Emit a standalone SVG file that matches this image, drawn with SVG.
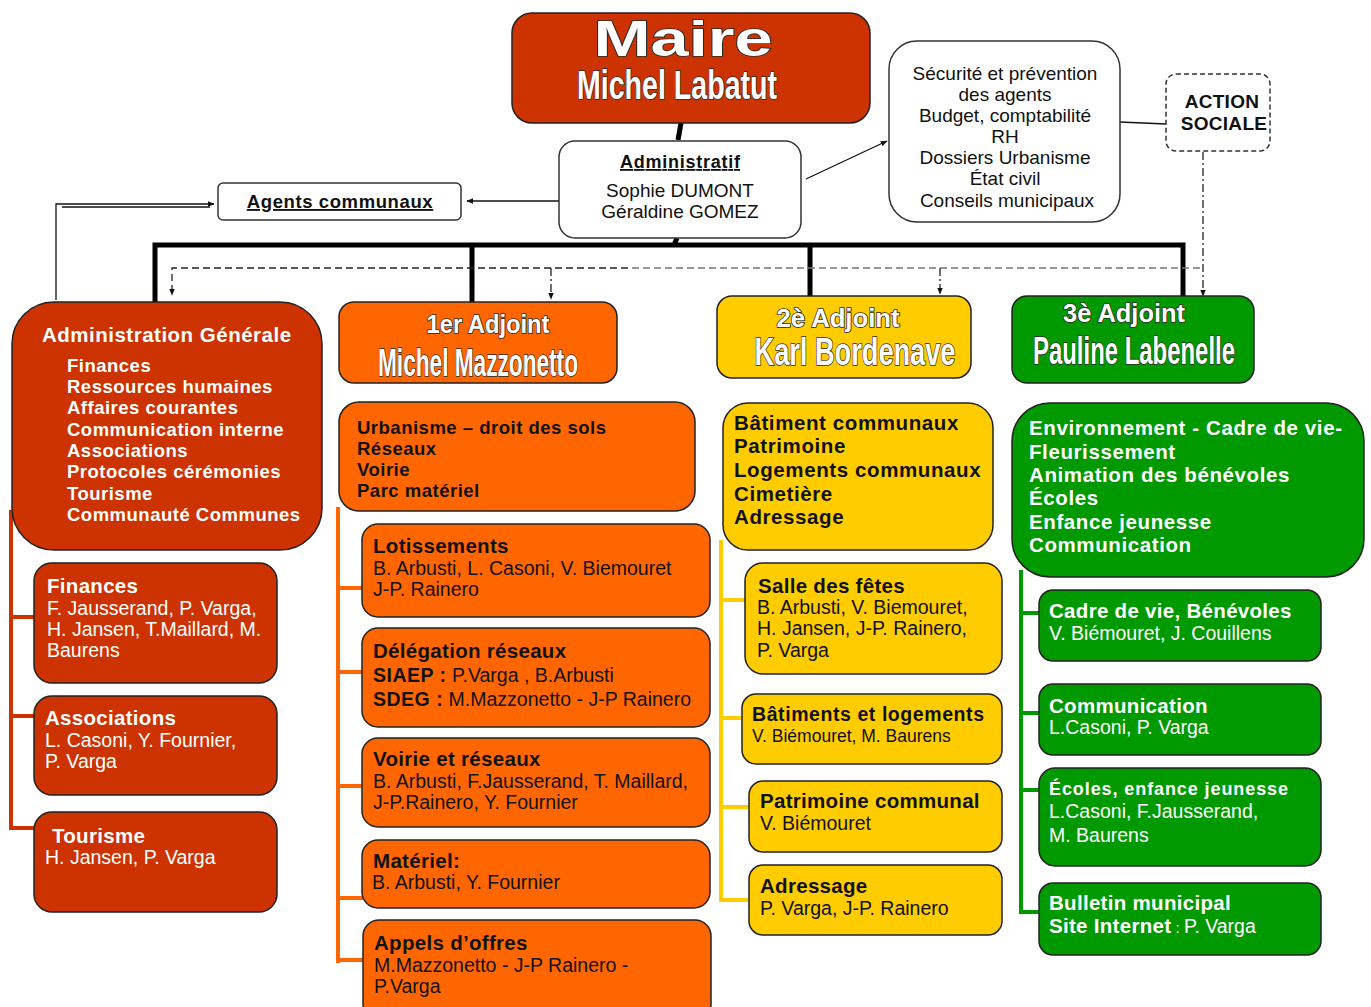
<svg xmlns="http://www.w3.org/2000/svg" width="1371" height="1007" viewBox="0 0 1371 1007">
<style>
text{font-family:"Liberation Sans",Arial,sans-serif}
.hdr{font-family:"Liberation Sans Narrow","Liberation Sans",Arial,sans-serif;font-weight:bold;fill:#fff;stroke:#2a2a2a;stroke-width:1.6;paint-order:stroke;text-anchor:middle}
.red{fill:#CC3300;stroke:#222;stroke-width:1.5}
.org{fill:#FF6600;stroke:#222;stroke-width:1.5}
.yel{fill:#FFCC00;stroke:#222;stroke-width:1.5}
.grn{fill:#009900;stroke:#222;stroke-width:1.5}
.wbox{fill:#fff;stroke:#333;stroke-width:1.5}
.t{font-size:20.5px;font-weight:bold;letter-spacing:0.3px}
.n{font-size:19.5px}
.l17{font-size:18.5px;font-weight:bold;letter-spacing:0.5px}
.l19{font-size:20.5px;font-weight:bold;letter-spacing:0.6px}
.w{fill:#fff}
.k{fill:#111}
.bl{fill:#111;font-size:19px}
.c{text-anchor:middle}
.bus{stroke:#000;stroke-width:5;fill:none}
.thin{stroke:#111;stroke-width:1.3;fill:none}
.dash{stroke:#222;stroke-width:1.3;fill:none;stroke-dasharray:7 4}
.dashg{stroke:#777;stroke-width:1.3;fill:none;stroke-dasharray:7 4}
.dd{stroke:#222;stroke-width:1.3;fill:none;stroke-dasharray:8 3 2 3}
</style>
<defs>
<marker id="ah" viewBox="0 0 10 10" refX="9" refY="5" markerWidth="7" markerHeight="7" orient="auto" markerUnits="userSpaceOnUse">
<path d="M0,1 L10,5 L0,9 z" fill="#111"/>
</marker>
</defs>

<g id="connectors">
<path class="bus" d="M681,123 L678,140" stroke-width="4"/>
<path class="bus" d="M677,238 L674,245" stroke-width="4"/>
<path class="bus" d="M155,302 V245 H1183 V297"/>
<path class="bus" d="M472,245 V302"/>
<path class="bus" d="M810,245 V297"/>
<path class="thin" d="M559,201 H467" marker-end="url(#ah)"/>
<path class="thin" d="M56,300 V204 H214" marker-end="url(#ah)"/>
<path class="thin" d="M62,207 H210"/>
<path class="thin" d="M806,179 L887,141" marker-end="url(#ah)"/>
<path class="thin" d="M1120,122 L1166,124"/>
<path class="dd" d="M1203,152 V296" marker-end="url(#ah)"/>
<path class="dashg" d="M1200,268 H628"/>
<path class="dash" d="M628,268 H172 V295" marker-end="url(#ah)"/>
<path class="dd" d="M551,268 V299" marker-end="url(#ah)"/>
<path class="dd" d="M940,268 V294" marker-end="url(#ah)"/>
<path d="M11,510 V828 H35 M11,617 H35 M11,716 H35" stroke="#CC3300" stroke-width="4" fill="none"/>
<path d="M338,507 V963 M338,588 H363 M338,672 H363 M338,786 H363 M338,898 H363 M338,960 H363" stroke="#FF6600" stroke-width="4" fill="none"/>
<path d="M721,540 V900 H748 M721,600 H746 M721,718 H743 M721,807 H750" stroke="#FFCC00" stroke-width="4" fill="none"/>
<path d="M1021,570 V912 H1040 M1021,613 H1040 M1021,713 H1040 M1021,790 H1040" stroke="#009900" stroke-width="4" fill="none"/>
</g>

<g id="maire">
<rect x="512" y="13" width="358" height="110" rx="20" class="red"/>
<text x="683" y="56" font-size="50" textLength="179" lengthAdjust="spacingAndGlyphs" class="hdr" style="font-family:'Liberation Sans',Arial,sans-serif">Maire</text>
<text x="677" y="99" font-size="40" textLength="200" lengthAdjust="spacingAndGlyphs" class="hdr">Michel Labatut</text>
</g>

<g id="administratif">
<rect x="559" y="141" width="242" height="97" rx="16" class="wbox"/>
<text x="680" y="168" font-size="18" font-weight="bold" text-decoration="underline" textLength="120" class="c k">Administratif</text>
<text x="680" y="197" class="bl c">Sophie DUMONT</text>
<text x="680" y="218" class="bl c">Géraldine GOMEZ</text>
</g>

<g id="agents-communaux">
<rect x="218" y="183" width="243" height="37" rx="5" class="wbox"/>
<text x="340" y="208" font-size="18.5" font-weight="bold" letter-spacing="0.6" text-decoration="underline" class="c k">Agents communaux</text>
</g>

<g id="securite">
<rect x="889" y="41" width="231" height="181" rx="28" class="wbox"/>
<text class="bl c" x="1005" y="80">Sécurité et prévention</text>
<text class="bl c" x="1005" y="101">des agents</text>
<text class="bl c" x="1005" y="122">Budget, comptabilité</text>
<text class="bl c" x="1005" y="143">RH</text>
<text class="bl c" x="1005" y="164">Dossiers Urbanisme</text>
<text class="bl c" x="1005" y="185">État civil</text>
<text class="bl c" x="1007" y="207">Conseils municipaux</text>
</g>

<g id="action-sociale">
<rect x="1166" y="74" width="104" height="77" rx="10" fill="#fff" stroke="#333" stroke-width="1.5" stroke-dasharray="5 3"/>
<text x="1222" y="108" font-size="19" font-weight="bold" letter-spacing="0.3" class="c k">ACTION</text>
<text x="1224" y="130" font-size="19" font-weight="bold" letter-spacing="0.3" class="c k">SOCIALE</text>
</g>

<g id="admin-generale">
<rect x="12" y="302" width="310" height="248" rx="42" class="red"/>
<text x="42" y="342" font-size="20.5" font-weight="bold" letter-spacing="0.5" class="w">Administration Générale</text>
<text class="l17 w" x="67" y="372">Finances</text>
<text class="l17 w" x="67" y="393">Ressources  humaines</text>
<text class="l17 w" x="67" y="414">Affaires courantes</text>
<text class="l17 w" x="67" y="436">Communication  interne</text>
<text class="l17 w" x="67" y="457">Associations</text>
<text class="l17 w" x="67" y="478">Protocoles cérémonies</text>
<text class="l17 w" x="67" y="500">Tourisme</text>
<text class="l17 w" x="67" y="521">Communauté Communes</text>
</g>

<g id="finances">
<rect x="34" y="563" width="243" height="120" rx="18" class="red"/>
<text class="t w" x="47" y="593">Finances</text>
<text class="n w" x="47" y="615">F. Jausserand, P. Varga,</text>
<text class="n w" x="47" y="636">H. Jansen, T.Maillard, M.</text>
<text class="n w" x="47" y="657">Baurens</text>
</g>

<g id="associations">
<rect x="34" y="696" width="243" height="99" rx="18" class="red"/>
<text class="t w" x="45" y="725">Associations</text>
<text class="n w" x="45" y="747">L. Casoni, Y. Fournier,</text>
<text class="n w" x="45" y="768">P. Varga</text>
</g>

<g id="tourisme">
<rect x="34" y="812" width="243" height="100" rx="18" class="red"/>
<text class="t w" x="52" y="843">Tourisme</text>
<text class="n w" x="45" y="864">H. Jansen, P. Varga</text>
</g>

<g id="adjoint1">
<rect x="339" y="302" width="278" height="81" rx="15" class="org"/>
<text x="488" y="333" font-size="25" textLength="123" lengthAdjust="spacingAndGlyphs" class="hdr">1er Adjoint</text>
<text x="478" y="376" font-size="38" textLength="200" lengthAdjust="spacingAndGlyphs" class="hdr">Michel Mazzonetto</text>
</g>

<g id="urbanisme">
<rect x="339" y="402" width="356" height="109" rx="20" class="org"/>
<text class="l17 k" x="357" y="434" letter-spacing="0.4">Urbanisme – droit des sols</text>
<text class="l17 k" x="357" y="455" letter-spacing="0.4">Réseaux</text>
<text class="l17 k" x="357" y="476" letter-spacing="0.4">Voirie</text>
<text class="l17 k" x="357" y="497" letter-spacing="0.4">Parc matériel</text>
</g>

<g id="lotissements">
<rect x="362" y="524" width="348" height="93" rx="16" class="org"/>
<text class="t k" x="373" y="553">Lotissements</text>
<text class="n k" x="373" y="575">B. Arbusti, L. Casoni, V. Biemouret</text>
<text class="n k" x="373" y="596">J-P. Rainero</text>
</g>

<g id="delegation-reseaux">
<rect x="362" y="628" width="348" height="99" rx="16" class="org"/>
<text class="t k" x="373" y="658">Délégation réseaux</text>
<text class="n k" x="373" y="682"><tspan font-weight="bold" letter-spacing="0.5">SIAEP :</tspan> P.Varga , B.Arbusti</text>
<text class="n k" x="373" y="706"><tspan font-weight="bold" letter-spacing="0.5">SDEG :</tspan> M.Mazzonetto - J-P Rainero</text>
</g>

<g id="voirie-reseaux">
<rect x="362" y="738" width="348" height="89" rx="16" class="org"/>
<text class="t k" x="373" y="766">Voirie et réseaux</text>
<text class="n k" x="373" y="788">B. Arbusti, F.Jausserand, T. Maillard,</text>
<text class="n k" x="373" y="809">J-P.Rainero, Y. Fournier</text>
</g>

<g id="materiel">
<rect x="362" y="840" width="348" height="68" rx="16" class="org"/>
<text class="t k" x="373" y="868">Matériel:</text>
<text class="n k" x="372" y="889">B. Arbusti, Y. Fournier</text>
</g>

<g id="appels-offres">
<rect x="363" y="920" width="348" height="100" rx="16" class="org"/>
<text class="t k" x="374" y="950">Appels d’offres</text>
<text class="n k" x="374" y="972">M.Mazzonetto - J-P Rainero -</text>
<text class="n k" x="374" y="993">P.Varga</text>
</g>

<g id="adjoint2">
<rect x="717" y="296" width="254" height="82" rx="15" class="yel"/>
<text x="838" y="327" font-size="25" textLength="123" lengthAdjust="spacingAndGlyphs" class="hdr">2è Adjoint</text>
<text x="855" y="365" font-size="38" textLength="201" lengthAdjust="spacingAndGlyphs" class="hdr">Karl Bordenave</text>
</g>

<g id="batiment-communaux">
<rect x="723" y="403" width="270" height="147" rx="25" class="yel"/>
<text class="l19 k" x="734" y="430">Bâtiment communaux</text>
<text class="l19 k" x="734" y="453">Patrimoine</text>
<text class="l19 k" x="734" y="477">Logements communaux</text>
<text class="l19 k" x="734" y="501">Cimetière</text>
<text class="l19 k" x="734" y="524">Adressage</text>
</g>

<g id="salle-fetes">
<rect x="745" y="563" width="257" height="111" rx="18" class="yel"/>
<text class="t k" x="758" y="593">Salle des fêtes</text>
<text class="n k" x="757" y="614">B. Arbusti, V. Biemouret,</text>
<text class="n k" x="757" y="635">H. Jansen, J-P. Rainero,</text>
<text class="n k" x="757" y="657">P. Varga</text>
</g>

<g id="batiments-logements">
<rect x="742" y="694" width="260" height="70" rx="14" class="yel"/>
<text class="k" x="752" y="721" font-size="19.5" font-weight="bold" textLength="232">Bâtiments et logements</text>
<text class="k" x="752" y="742" font-size="17.5">V. Biémouret, M. Baurens</text>
</g>

<g id="patrimoine-communal">
<rect x="749" y="781" width="253" height="71" rx="14" class="yel"/>
<text class="t k" x="760" y="808">Patrimoine communal</text>
<text class="n k" x="760" y="830">V. Biémouret</text>
</g>

<g id="adressage">
<rect x="749" y="865" width="253" height="70" rx="14" class="yel"/>
<text class="t k" x="760" y="893">Adressage</text>
<text class="n k" x="760" y="915">P. Varga, J-P. Rainero</text>
</g>

<g id="adjoint3">
<rect x="1012" y="296" width="242" height="87" rx="15" class="grn"/>
<text x="1124" y="322" font-size="25" textLength="122" lengthAdjust="spacingAndGlyphs" class="hdr">3è Adjoint</text>
<text x="1134" y="364" font-size="38" textLength="202" lengthAdjust="spacingAndGlyphs" class="hdr">Pauline Labenelle</text>
</g>

<g id="environnement">
<rect x="1012" y="403" width="352" height="174" rx="38" class="grn"/>
<text class="l19 w" x="1029" y="435" letter-spacing="0.5">Environnement - Cadre de vie-</text>
<text class="l19 w" x="1029" y="459" letter-spacing="0.5">Fleurissement</text>
<text class="l19 w" x="1029" y="482" letter-spacing="0.5">Animation des bénévoles</text>
<text class="l19 w" x="1029" y="505" letter-spacing="0.5">Écoles</text>
<text class="l19 w" x="1029" y="529" letter-spacing="0.5">Enfance jeunesse</text>
<text class="l19 w" x="1029" y="552" letter-spacing="0.5">Communication</text>
</g>

<g id="cadre-de-vie">
<rect x="1039" y="590" width="282" height="71" rx="14" class="grn"/>
<text class="t w" x="1049" y="618">Cadre de vie, Bénévoles</text>
<text class="n w" x="1049" y="640">V. Biémouret, J. Couillens</text>
</g>

<g id="communication">
<rect x="1039" y="684" width="282" height="71" rx="14" class="grn"/>
<text class="t w" x="1049" y="713">Communication</text>
<text class="n w" x="1049" y="734">L.Casoni, P. Varga</text>
</g>

<g id="ecoles">
<rect x="1039" y="768" width="282" height="98" rx="16" class="grn"/>
<text class="w" x="1049" y="795" font-size="18" font-weight="bold" textLength="239">Écoles, enfance jeunesse</text>
<text class="n w" x="1049" y="818">L.Casoni, F.Jausserand,</text>
<text class="n w" x="1049" y="842">M. Baurens</text>
</g>

<g id="bulletin">
<rect x="1039" y="883" width="282" height="72" rx="14" class="grn"/>
<text class="t w" x="1049" y="910">Bulletin municipal</text>
<text class="w" x="1049" y="933"><tspan font-weight="bold" font-size="20.5" letter-spacing="0.3">Site Internet</tspan><tspan font-size="15"> : </tspan><tspan font-size="19.5">P. Varga</tspan></text>
</g>
</svg>
